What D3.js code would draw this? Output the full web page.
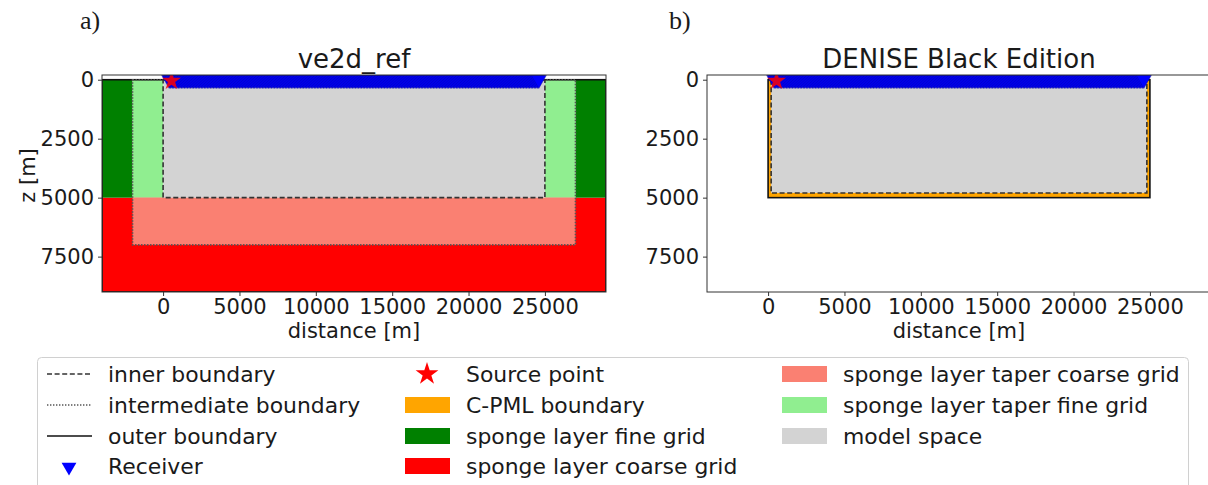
<!DOCTYPE html>
<html>
<head>
<meta charset="utf-8">
<script src="https://cdn.jsdelivr.net/npm/d3@7"></script>
<style>
  body { margin: 0; background: #fff; }
  text { font-family: "DejaVu Sans", sans-serif; fill: #1a1a1a; }
</style>
</head>
<body>
<svg id="chart" width="1208" height="485"></svg>
<script>
// axis ranges and ticks (metres)
const xDomain = [-4000, 29000]
const zDomain = [-200, 9000]
const xTicks = [0, 5000, 10000, 15000, 20000, 25000]
const zTicks = [0, 2500, 5000, 7500]

// filled regions: [kind, x0, x1, z0, z1]
const refRegions = [
  ["coarse", -4000, 29000, 5000, 9000],
  ["fine", -4000, -2000, 0, 5000],
  ["fine", 27000, 29000, 0, 5000],
  ["taperFine", -2000, 0, 0, 5000],
  ["taperFine", 25000, 27000, 0, 5000],
  ["taperCoarse", -2000, 27000, 5000, 7000],
  ["model", 0, 25000, 0, 5000],
]
const deniseRegions = [
  ["cpml", 0, 25000, 0, 5000],
  ["model", 200, 24800, 0, 4800],
]

// boundaries: [kind, x0, x1, z0, z1]
const refBoundaries = [
  ["outer", -4000, 29000, 0, 9000],
  ["intermediate", -2000, 27000, 0, 7000],
  ["inner", 0, 25000, 0, 5000],
]
const deniseBoundaries = [
  ["outer", 0, 25000, 0, 5000],
  ["inner", 200, 24800, 0, 4800],
]

// acquisition: regular receiver spread along the surface, one source
const receiverX = d3.range(400, 24700, 100)
const receiverZ = 0
const sourcePoint = [550, 50]

const regionColor = {
  coarse: "#ff0000", fine: "#008000", taperCoarse: "#fa8072",
  taperFine: "#90ee90", model: "#d3d3d3", cpml: "#ffa500",
}
const lineStyle = {
  outer: { dash: null, color: "#111", width: 1.6 },
  intermediate: { dash: "1.4,1.6", color: "#555", width: 1.6 },
  inner: { dash: "5,2.6", color: "#333", width: 1.6 },
}

const svg = d3.select("#chart")

function drawPanel({ left, right, title, regions, boundaries, id, zLabel }) {
  const top = 75
  const bottom = 292
  const x = d3.scaleLinear().domain(xDomain).range([left, right])
  const z = d3.scaleLinear().domain(zDomain).range([top, bottom])

  svg.append("clipPath").attr("id", id)
    .append("rect")
    .attr("x", left).attr("y", top)
    .attr("width", right - left).attr("height", bottom - top)

  const g = svg.append("g").attr("clip-path", `url(#${id})`)

  g.selectAll("rect.region")
    .data(regions)
    .join("rect")
    .attr("class", "region")
    .attr("x", (d) => x(d[1]))
    .attr("y", (d) => z(d[3]))
    .attr("width", (d) => x(d[2]) - x(d[1]))
    .attr("height", (d) => z(d[4]) - z(d[3]))
    .attr("fill", (d) => regionColor[d[0]])

  g.selectAll("rect.boundary")
    .data(boundaries)
    .join("rect")
    .attr("class", "boundary")
    .attr("x", (d) => x(d[1]))
    .attr("y", (d) => z(d[3]))
    .attr("width", (d) => x(d[2]) - x(d[1]))
    .attr("height", (d) => z(d[4]) - z(d[3]))
    .attr("fill", "none")
    .attr("stroke", (d) => lineStyle[d[0]].color)
    .attr("stroke-width", (d) => lineStyle[d[0]].width)
    .attr("stroke-dasharray", (d) => lineStyle[d[0]].dash)

  const tri = d3.symbol(d3.symbolTriangle, 100)
  g.selectAll("path.rec")
    .data(receiverX)
    .join("path")
    .attr("class", "rec")
    .attr("d", tri)
    .attr("transform", (d) => `translate(${x(d)},${z(receiverZ)}) rotate(180)`)
    .attr("fill", "#0000ff")
    .attr("stroke", "#00008b")
    .attr("stroke-width", 0.4)

  g.append("path")
    .attr("d", d3.symbol(d3.symbolStar, 110)())
    .attr("transform", `translate(${x(sourcePoint[0])},${z(sourcePoint[1])})`)
    .attr("fill", "#ff0000")
    .attr("fill-opacity", 0.85)

  // frame
  svg.append("rect")
    .attr("x", left).attr("y", top)
    .attr("width", right - left).attr("height", bottom - top)
    .attr("fill", "none")
    .attr("stroke", "#333")
    .attr("stroke-width", 1)

  const xAxis = svg.append("g")
    .attr("transform", `translate(0,${bottom})`)
    .call(d3.axisBottom(x).tickValues(xTicks).tickSize(4).tickPadding(3).tickFormat(d3.format("d")))
  const zAxis = svg.append("g")
    .attr("transform", `translate(${left},0)`)
    .call(d3.axisLeft(z).tickValues(zTicks).tickSize(4).tickPadding(4).tickFormat(d3.format("d")))
  for (const ax of [xAxis, zAxis]) {
    ax.select(".domain").remove()
    ax.selectAll("line").attr("stroke", "#333")
    ax.selectAll("text").attr("font-size", 21).attr("fill", "#1a1a1a")
  }

  const mid = (left + right) / 2
  svg.append("text")
    .attr("x", (left + Math.min(right, 1211)) / 2).attr("y", 68)
    .attr("text-anchor", "middle").attr("font-size", 26)
    .text(title)
  svg.append("text")
    .attr("x", mid).attr("y", 338)
    .attr("text-anchor", "middle").attr("font-size", 21)
    .text("distance [m]")
  if (zLabel) {
    svg.append("text")
      .attr("transform", `translate(35,${(top + bottom) / 2 - 8}) rotate(-90)`)
      .attr("text-anchor", "middle").attr("font-size", 21)
      .text(zLabel)
  }
}

drawPanel({
  left: 102, right: 606, title: "ve2d_ref", id: "clipA",
  regions: refRegions, boundaries: refBoundaries, zLabel: "z [m]",
})
drawPanel({
  left: 707, right: 1211, title: "DENISE Black Edition", id: "clipB",
  regions: deniseRegions, boundaries: deniseBoundaries,
})

// panel letters
svg.append("text").attr("x", 80).attr("y", 29)
  .style("font-family", "'Liberation Serif', serif").attr("font-size", 26).text("a)")
svg.append("text").attr("x", 669).attr("y", 29)
  .style("font-family", "'Liberation Serif', serif").attr("font-size", 26).text("b)")

// legend
const legendCols = [
  ["inner", "intermediate", "outer", "receiver"],
  ["source", "cpml", "fine", "coarse"],
  ["taperCoarse", "taperFine", "model"],
]
const legendLabels = {
  inner: "inner boundary", intermediate: "intermediate boundary",
  outer: "outer boundary", receiver: "Receiver", source: "Source point",
  cpml: "C-PML boundary", fine: "sponge layer fine grid",
  coarse: "sponge layer coarse grid", taperCoarse: "sponge layer taper coarse grid",
  taperFine: "sponge layer taper fine grid", model: "model space",
}
const colX = [47, 405, 782]
const rowY = [374, 405, 436, 466]

svg.append("rect")
  .attr("x", 37.5).attr("y", 357.5).attr("width", 1151).attr("height", 140)
  .attr("rx", 4).attr("fill", "#fff").attr("stroke", "#d0d0d0")

legendCols.forEach((col, ci) => {
  col.forEach((key, ri) => {
    const hx = colX[ci]
    const cy = rowY[ri]
    const item = svg.append("g")
    if (lineStyle[key]) {
      item.append("line")
        .attr("x1", hx).attr("x2", hx + 45).attr("y1", cy).attr("y2", cy)
        .attr("stroke", lineStyle[key].color)
        .attr("stroke-width", lineStyle[key].width)
        .attr("stroke-dasharray", lineStyle[key].dash)
    } else if (key === "receiver") {
      item.append("path")
        .attr("d", d3.symbol(d3.symbolTriangle, 95)())
        .attr("transform", `translate(${hx + 22},${cy + 1}) rotate(180)`)
        .attr("fill", "#0000ff")
    } else if (key === "source") {
      item.append("path")
        .attr("d", d3.symbol(d3.symbolStar, 160)())
        .attr("transform", `translate(${hx + 22},${cy})`)
        .attr("fill", "#ff0000")
    } else {
      item.append("rect")
        .attr("x", hx).attr("y", cy - 8).attr("width", 45).attr("height", 16)
        .attr("fill", regionColor[key])
    }
    item.append("text")
      .attr("x", hx + 61).attr("y", cy)
      .attr("dy", "0.35em").attr("font-size", 21.9)
      .text(legendLabels[key])
  })
})
</script>
</body>
</html>
